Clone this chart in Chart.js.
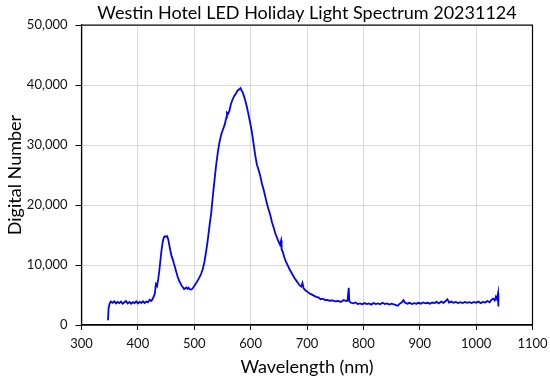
<!DOCTYPE html>
<html>
<head>
<meta charset="utf-8">
<title>Westin Hotel LED Holiday Light Spectrum</title>
<script src="https://cdn.jsdelivr.net/npm/chart.js@4.4.0/dist/chart.umd.min.js"></script>
<style>
  html, body { margin: 0; padding: 0; background: #fff; }
  #wrap { width: 550px; height: 381px; position: relative; }
</style>
</head>
<body>
<div id="wrap"><canvas id="spectrumChart"></canvas></div>
<script>
// Spectrum samples (wavelength in nm, digital number)
const wavelengths = [
  347, 348, 350, 352, 355, 358, 361, 364, 367, 370, 373, 376, 379, 382, 385, 388, 391, 394, 397, 400,
  403, 406, 409, 412, 415, 418, 421, 424, 427, 430, 432, 434, 436, 438, 440, 442, 444, 446, 448, 450,
  452, 454, 456, 458, 460, 462, 464, 466, 468, 470, 472, 474, 476, 478, 480, 482, 484, 486, 488, 490,
  492, 494, 496, 498, 500, 503, 506, 509, 512, 515, 518, 521, 524, 527, 530, 533, 536, 539, 542, 545,
  548, 551, 554, 557, 558, 560, 562, 565, 568, 571, 574, 577, 580, 582, 584, 586, 588, 590, 593, 596,
  599, 602, 605, 608, 611, 614, 617, 620, 623, 626, 629, 632, 635, 638, 641, 644, 647, 650, 652, 654,
  655, 657, 660, 663, 666, 669, 672, 675, 678, 681, 684, 687, 690, 692, 694, 697, 700, 704, 708, 712,
  716, 720, 724, 728, 732, 736, 740, 745, 750, 755, 760, 765, 770, 772, 774, 775, 778, 782, 786, 790,
  794, 798, 802, 806, 810, 814, 818, 822, 826, 830, 834, 838, 842, 846, 850, 854, 858, 861, 865, 868,
  871, 874, 878, 882, 886, 890, 894, 898, 902, 906, 910, 914, 918, 922, 926, 930, 934, 938, 942, 946,
  949, 952, 956, 960, 964, 968, 972, 976, 980, 984, 988, 992, 996, 1000, 1004, 1008, 1012, 1016, 1020, 1024,
  1027, 1030, 1033, 1035, 1037, 1039, 1039.5
];
const counts = [
  800, 2800, 3600, 3900, 3700, 3950, 3600, 3850, 3650, 3900, 3550, 3800, 4000, 3600, 3850, 3550, 3800, 3650, 3950, 3600,
  3850, 3700, 3950, 3650, 3900, 3800, 4200, 4000, 4500, 5200, 6800, 6500, 7600, 9000, 10800, 12500, 13800, 14600, 14800, 14700,
  14800, 14200, 13200, 12200, 11400, 10900, 10200, 9600, 8900, 8200, 7700, 7200, 6900, 6500, 6300, 6000, 6100, 6250, 6050, 6200,
  5950, 5900, 6000, 6200, 6500, 6900, 7400, 7900, 8500, 9300, 10500, 12200, 14200, 16500, 18600, 21500, 24200, 26800, 28900, 30600,
  31800, 32600, 33400, 34600, 35400, 35200, 35600, 36800, 37600, 38200, 38600, 39100, 39300, 39500, 39100, 38800, 38200, 37600, 36500, 35200,
  33800, 32300, 30400, 28400, 26800, 25900, 24900, 23600, 22600, 21400, 20200, 19200, 18300, 17100, 16200, 15200, 14500, 13800, 13400, 14100,
  12600, 12200, 11200, 10500, 9900, 9300, 8800, 8300, 7800, 7400, 7000, 6600, 6400, 7000, 6100, 5800, 5600, 5300, 5100, 4900,
  4700, 4600, 4300, 4400, 4150, 4200, 4050, 4100, 3950, 4000, 3850, 4150, 4000, 4100, 6200, 4000, 3700, 3600, 3750, 3500,
  3600, 3450, 3650, 3500, 3600, 3400, 3650, 3500, 3600, 3450, 3700, 3500, 3600, 3400, 3550, 3450, 3300, 3200, 3600, 3750,
  4150, 3700, 3550, 3700, 3500, 3650, 3550, 3700, 3550, 3750, 3600, 3700, 3550, 3750, 3650, 3850, 3600, 3900, 3700, 4000,
  4300, 3750, 3900, 3700, 3850, 3650, 3800, 3650, 3850, 3700, 3800, 3650, 3850, 3700, 3900, 3650, 3850, 3750, 4000, 3800,
  4200, 4400, 4100, 4700, 4300, 5300, 3100
];

// Axis settings
const xTicks = [300, 400, 500, 600, 700, 800, 900, 1000, 1100];
const yTicks = [0, 10000, 20000, 30000, 40000, 50000];

const points = wavelengths.map((w, i) => ({ x: w, y: counts[i] }));

// Black box around the plot area (Excel style)
const plotBorder = {
  id: "plotBorder",
  afterDraw(chart) {
    const a = chart.chartArea;
    const ctx = chart.ctx;
    ctx.save();
    ctx.strokeStyle = "#000";
    ctx.lineWidth = 1.2;
    ctx.strokeRect(a.left, a.top, a.right - a.left, a.bottom - a.top);
    ctx.restore();
  },
};

const fontFamily = "Lato, 'Open Sans', sans-serif";

new Chart(document.getElementById("spectrumChart"), {
  type: "line",
  data: {
    datasets: [
      {
        label: "Spectrum",
        data: points,
        borderColor: "#0000ff",
        borderWidth: 1.8,
        pointRadius: 0,
        tension: 0,
        fill: false,
      },
    ],
  },
  options: {
    responsive: true,
    maintainAspectRatio: false,
    animation: false,
    layout: { padding: { left: 0, right: 17.5, top: 0, bottom: 0 } },
    plugins: {
      legend: { display: false },
      tooltip: { enabled: false },
      title: {
        display: true,
        text: "Westin Hotel LED Holiday Light Spectrum 20231124",
        fullSize: false,
        color: "#000",
        font: { family: fontFamily, size: 18, weight: "normal" },
        padding: { top: 2, bottom: 1.5 },
      },
    },
    scales: {
      x: {
        type: "linear",
        min: xTicks[0],
        max: xTicks[xTicks.length - 1],
        afterBuildTicks(scale) {
          scale.ticks = xTicks.map((v) => ({ value: v }));
        },
        afterFit(scale) {
          scale.height = 56;
          scale.paddingLeft = 0;
          scale.paddingRight = 0;
        },
        grid: { color: "#d9d9d9", tickColor: "#000", tickLength: 5, lineWidth: 1 },
        border: { color: "#000", width: 1.2 },
        ticks: {
          color: "#111",
          font: { family: fontFamily, size: 13 },
          padding: 6,
          maxRotation: 0,
          callback: function (value) {
            return String(value);
          },
        },
        title: {
          display: true,
          text: "Wavelength (nm)",
          color: "#000",
          font: { family: fontFamily, size: 18 },
          padding: { top: 0, bottom: 3 },
        },
      },
      y: {
        min: yTicks[0],
        max: yTicks[yTicks.length - 1],
        afterBuildTicks(scale) {
          scale.ticks = yTicks.map((v) => ({ value: v }));
        },
        afterFit(scale) {
          scale.width = 81.5;
          scale.paddingTop = 0;
          scale.paddingBottom = 0;
        },
        grid: { color: "#d9d9d9", tickColor: "#000", tickLength: 6, lineWidth: 1 },
        border: { color: "#000", width: 1.2 },
        ticks: {
          color: "#111",
          font: { family: fontFamily, size: 13 },
          padding: 8,
          callback: function (value) {
            return value.toLocaleString("en-US");
          },
        },
        title: {
          display: true,
          text: "Digital Number",
          color: "#000",
          font: { family: fontFamily, size: 18 },
          padding: { top: 4, bottom: 0 },
        },
      },
    },
  },
  plugins: [plotBorder],
});
</script>
</body>
</html>
